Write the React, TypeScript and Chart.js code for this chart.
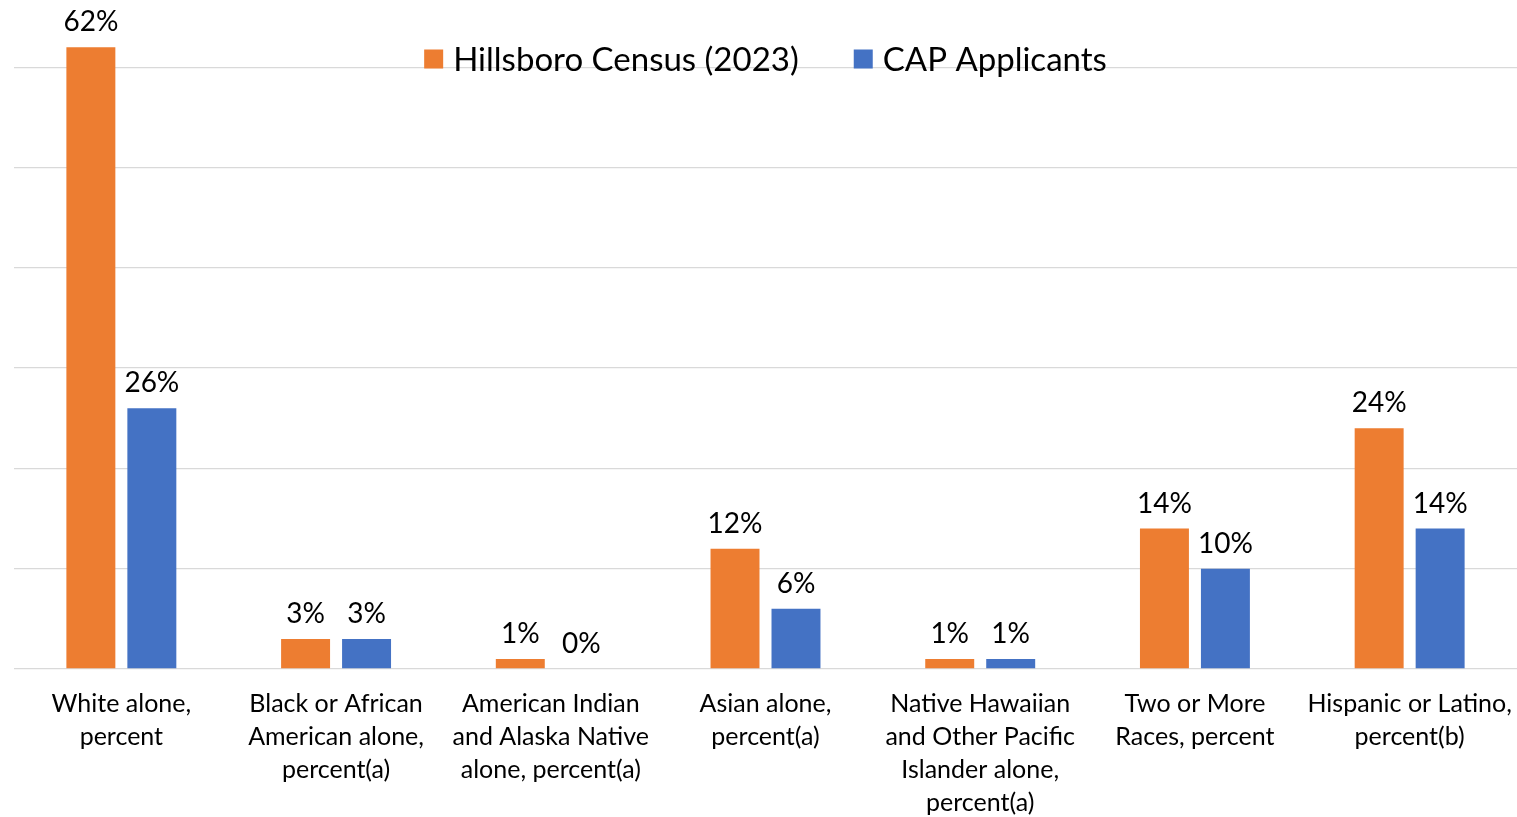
import React, { useEffect, useRef } from "react";
import { Chart, registerables } from "chart.js";

Chart.register(...registerables);

const categories: string[][] = [
  ["White alone,", "percent"],
  ["Black or African", "American alone,", "percent(a)"],
  ["American Indian", "and Alaska Native", "alone, percent(a)"],
  ["Asian alone,", "percent(a)"],
  ["Native Hawaiian", "and Other Pacific", "Islander alone,", "percent(a)"],
  ["Two or More", "Races, percent"],
  ["Hispanic or Latino,", "percent(b)"],
];
const censusValues = [62, 3, 1, 12, 1, 14, 24];
const capValues = [26, 3, 0, 6, 1, 10, 14];
const seriesNames = ["Hillsboro Census (2023)", "CAP Applicants"];
const seriesColors = ["#ED7D31", "#4472C4"];
const yMin = 0;
const yMax = 66.7;
const yStep = 10;

const FONT = "Lato, 'Noto Sans', sans-serif";

const valueLabels = {
  id: "valueLabels",
  afterDatasetsDraw(chart: any) {
    const ctx = chart.ctx;
    ctx.save();
    ctx.font = `28px ${FONT}`;
    ctx.fillStyle = "#000";
    ctx.textAlign = "center";
    ctx.textBaseline = "alphabetic";
    chart.data.datasets.forEach((ds: any, i: number) => {
      const meta = chart.getDatasetMeta(i);
      meta.data.forEach((bar: any, j: number) => {
        ctx.fillText(`${ds.data[j]}%`, bar.x, bar.y - 16);
      });
    });
    ctx.restore();
  },
};

const inlineLegend = {
  id: "inlineLegend",
  afterDraw(chart: any) {
    const ctx = chart.ctx;
    const area = chart.chartArea;
    ctx.save();
    ctx.font = `33px ${FONT}`;
    ctx.textBaseline = "middle";
    ctx.textAlign = "left";
    const box = 19;
    const boxGap = 10;
    const itemGap = 55;
    const widths = seriesNames.map((n) => ctx.measureText(n).width);
    const total =
      widths.reduce((a, w) => a + box + boxGap + w, 0) + itemGap * (seriesNames.length - 1);
    let x = (area.left + area.right) / 2 - total / 2;
    const y = 59;
    seriesNames.forEach((name, i) => {
      ctx.fillStyle = seriesColors[i];
      ctx.fillRect(x, y - box / 2, box, box);
      x += box + boxGap;
      ctx.fillStyle = "#000";
      ctx.fillText(name, x, y + 1);
      x += widths[i] + itemGap;
    });
    ctx.restore();
  },
};

export default function App() {
  const ref = useRef<HTMLCanvasElement | null>(null);

  useEffect(() => {
    if (!ref.current) return;
    const chart = new Chart(ref.current, {
      type: "bar",
      data: {
        labels: categories,
        datasets: [
          {
            label: seriesNames[0],
            data: censusValues,
            backgroundColor: seriesColors[0],
            categoryPercentage: 0.568,
            barPercentage: 0.803,
          },
          {
            label: seriesNames[1],
            data: capValues,
            backgroundColor: seriesColors[1],
            categoryPercentage: 0.568,
            barPercentage: 0.803,
          },
        ],
      },
      options: {
        animation: false,
        responsive: true,
        maintainAspectRatio: false,
        layout: { padding: 0 },
        plugins: {
          legend: { display: false },
          tooltip: { enabled: false },
        },
        scales: {
          x: {
            grid: { display: false },
            border: { display: false },
            ticks: {
              color: "#000",
              font: { family: FONT, size: 25, lineHeight: 1.32 },
              padding: 10,
              maxRotation: 0,
              autoSkip: false,
            },
            afterFit: (scale: any) => {
              scale.height = 148;
              scale.paddingLeft = 0;
              scale.paddingRight = 0;
            },
          },
          y: {
            min: yMin,
            max: yMax,
            ticks: { display: false, stepSize: yStep },
            grid: { color: "#D9D9D9", lineWidth: 1.3, drawTicks: false },
            border: { display: false },
            afterBuildTicks: (scale: any) => {
              scale.ticks = scale.ticks.filter((t: any) => t.value % yStep === 0);
            },
            afterFit: (scale: any) => {
              scale.width = 14;
            },
          },
        },
      },
      plugins: [valueLabels, inlineLegend],
    });
    return () => chart.destroy();
  }, []);

  return (
    <div style={{ position: "absolute", left: 0, top: 0, width: 1517, height: 817, background: "#fff" }}>
      <canvas ref={ref} />
    </div>
  );
}
